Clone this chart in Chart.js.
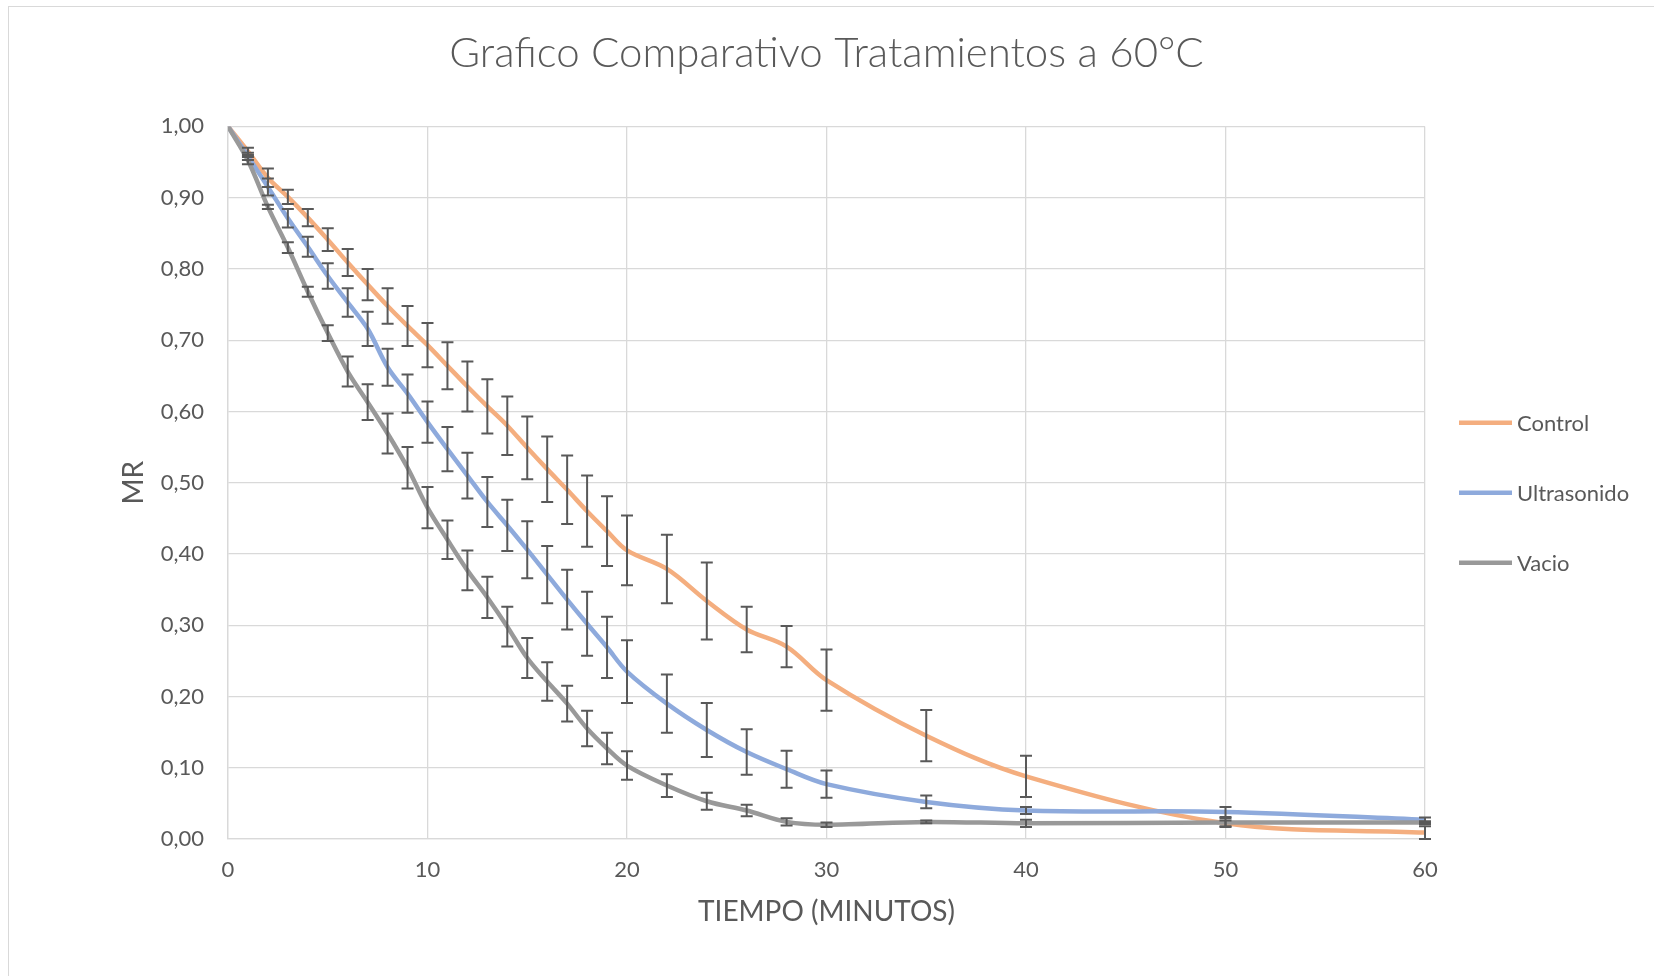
<!DOCTYPE html>
<html lang="es">
<head>
<meta charset="UTF-8">
<title>Grafico Comparativo Tratamientos a 60°C</title>
<script src="https://cdn.jsdelivr.net/npm/chart.js"></script>
<style>
    body { margin: 0; background: #fff; }
    #contenedor { position: relative; width: 1654px; height: 976px; }
    #marco {
        position: absolute; left: 8px; top: 6px; right: 0; bottom: 0;
        border-top: 1px solid #d9d9d9; border-left: 1px solid #d9d9d9;
        pointer-events: none;
    }
</style>
</head>
<body>
<div id="contenedor">
    <canvas id="grafico"></canvas>
    <div id="marco"></div>
</div>

<script>
// tiempos de muestreo (minutos)
var tiempo = [0, 1, 2, 3, 4, 5, 6, 7, 8, 9, 10, 11, 12, 13, 14, 15, 16, 17, 18, 19, 20, 22, 24, 26, 28, 30, 35, 40, 50, 60];

// MR por tratamiento
var control = [1.000, 0.965, 0.928, 0.901, 0.872, 0.841, 0.809, 0.778, 0.748, 0.720, 0.693, 0.664, 0.635, 0.607, 0.580,
    0.549, 0.519, 0.490, 0.460, 0.432, 0.405, 0.379, 0.334, 0.294, 0.270, 0.223, 0.145, 0.088, 0.022, 0.009];
var ultrasonido = [1.000, 0.958, 0.915, 0.871, 0.831, 0.790, 0.753, 0.716, 0.662, 0.625, 0.585, 0.547, 0.510, 0.473, 0.440,
    0.406, 0.371, 0.336, 0.302, 0.269, 0.235, 0.190, 0.153, 0.122, 0.098, 0.077, 0.052, 0.040, 0.038, 0.027];
var vacio = [1.000, 0.952, 0.887, 0.830, 0.768, 0.710, 0.656, 0.613, 0.569, 0.521, 0.465, 0.420, 0.377, 0.339, 0.298,
    0.254, 0.221, 0.190, 0.155, 0.127, 0.103, 0.075, 0.053, 0.040, 0.024, 0.020, 0.024, 0.022, 0.023, 0.023];

// desviaciones (barras de error, +/-)
var errControl = [0, 0.005, 0.013, 0.010, 0.012, 0.016, 0.019, 0.022, 0.025, 0.028, 0.031, 0.033, 0.035, 0.038, 0.041,
    0.044, 0.046, 0.048, 0.050, 0.049, 0.049, 0.048, 0.054, 0.032, 0.029, 0.043, 0.036, 0.029, 0.004, 0.009];
var errUltrasonido = [0, 0.005, 0.012, 0.013, 0.014, 0.018, 0.020, 0.024, 0.026, 0.027, 0.029, 0.031, 0.032, 0.035, 0.036,
    0.040, 0.040, 0.042, 0.045, 0.043, 0.044, 0.041, 0.038, 0.032, 0.026, 0.019, 0.009, 0.005, 0.007, 0.003];
var errVacio = [0, 0.005, 0.003, 0.0075, 0.007, 0.011, 0.021, 0.025, 0.028, 0.029, 0.029, 0.027, 0.028, 0.029, 0.028,
    0.028, 0.027, 0.025, 0.025, 0.022, 0.020, 0.016, 0.012, 0.008, 0.005, 0.003, 0.002, 0.005, 0.006, 0.002];

var ticksX = [0, 10, 20, 30, 40, 50, 60];
var ticksY = [0, 0.1, 0.2, 0.3, 0.4, 0.5, 0.6, 0.7, 0.8, 0.9, 1.0];

var gris = '#595959';
var fuente = 'Lato, "Open Sans", sans-serif';

function puntos(valores) {
    return valores.map(function (v, i) { return { x: tiempo[i], y: v }; });
}

// barras de error dibujadas encima de las lineas
var barrasError = {
    id: 'barrasError',
    afterDatasetsDraw: function (chart) {
        var ctx = chart.ctx;
        var xs = chart.scales.x, ys = chart.scales.y;
        ctx.save();
        ctx.strokeStyle = gris;
        ctx.lineWidth = 2;
        chart.data.datasets.forEach(function (ds) {
            ds.errores.forEach(function (e, i) {
                if (!e) return;
                var px = xs.getPixelForValue(tiempo[i]);
                var arriba = ys.getPixelForValue(ds.data[i].y + e);
                var abajo = ys.getPixelForValue(ds.data[i].y - e);
                ctx.beginPath();
                ctx.moveTo(px, arriba); ctx.lineTo(px, abajo);
                ctx.moveTo(px - 6, arriba); ctx.lineTo(px + 6, arriba);
                ctx.moveTo(px - 6, abajo); ctx.lineTo(px + 6, abajo);
                ctx.stroke();
            });
        });
        ctx.restore();
    }
};

// leyenda a la derecha
var leyenda = {
    id: 'leyenda',
    afterDraw: function (chart) {
        var ctx = chart.ctx, area = chart.chartArea;
        var x0 = area.right + 34;
        var yc = (area.top + area.bottom) / 2 + 10;
        ctx.save();
        ctx.font = '22px ' + fuente;
        ctx.textBaseline = 'middle';
        ctx.fillStyle = gris;
        chart.data.datasets.forEach(function (ds, i) {
            var y = yc + (i - 1) * 70;
            ctx.strokeStyle = ds.borderColor;
            ctx.lineWidth = 4.5;
            ctx.beginPath();
            ctx.moveTo(x0, y); ctx.lineTo(x0 + 53, y);
            ctx.stroke();
            ctx.fillText(ds.label, x0 + 58, y + 1);
        });
        ctx.restore();
    }
};

var ctx = document.getElementById('grafico').getContext('2d');
var grafico = new Chart(ctx, {
    type: 'line',
    data: {
        datasets: [{
            label: 'Control',
            data: puntos(control),
            errores: errControl,
            borderColor: '#f4ae7f',
            order: 3
        }, {
            label: 'Ultrasonido',
            data: puntos(ultrasonido),
            errores: errUltrasonido,
            borderColor: '#8eaadc',
            order: 2
        }, {
            label: 'Vacio',
            data: puntos(vacio),
            errores: errVacio,
            borderColor: '#999999',
            order: 1
        }]
    },
    options: {
        responsive: true,
        maintainAspectRatio: false,
        animation: false,
        layout: { padding: { left: 0, right: 229, top: 0, bottom: 0 } },
        elements: {
            line: { borderWidth: 4.5, tension: 0.35, fill: false },
            point: { radius: 0, hoverRadius: 0 }
        },
        plugins: {
            legend: { display: false },
            tooltip: { enabled: false },
            title: {
                display: true,
                text: 'Grafico Comparativo Tratamientos a 60°C',
                fullSize: false,
                color: gris,
                font: { family: fuente, size: 42, weight: '300' },
                padding: { top: 28, bottom: 48 }
            }
        },
        scales: {
            x: {
                type: 'linear',
                min: 0, max: 60,
                afterFit: function (s) { s.height = 137; },
                afterBuildTicks: function (s) { s.ticks = ticksX.map(function (v) { return { value: v }; }); },
                grid: { color: '#d9d9d9', lineWidth: 1.3, drawTicks: false },
                border: { color: '#d9d9d9', width: 1.3 },
                ticks: { color: gris, font: { family: fuente, size: 22 }, padding: 18, maxRotation: 0 },
                title: {
                    display: true, text: 'TIEMPO (MINUTOS)', color: gris,
                    font: { family: fuente, size: 28 }, padding: { top: 0, bottom: 47 }
                }
            },
            y: {
                min: 0, max: 1,
                afterFit: function (s) { s.width = 228; },
                afterBuildTicks: function (s) { s.ticks = ticksY.map(function (v) { return { value: v }; }); },
                grid: { color: '#d9d9d9', lineWidth: 1.3, drawTicks: false },
                border: { color: '#d9d9d9', width: 1.3 },
                ticks: {
                    color: gris, font: { family: fuente, size: 22 }, padding: 24,
                    callback: function (v) { return v.toFixed(2).replace('.', ','); }
                },
                title: {
                    display: true, text: 'MR', color: gris,
                    font: { family: fuente, size: 28 }, padding: { top: 117, bottom: 0 }
                }
            }
        }
    },
    plugins: [barrasError, leyenda]
});
</script>
</body>
</html>
